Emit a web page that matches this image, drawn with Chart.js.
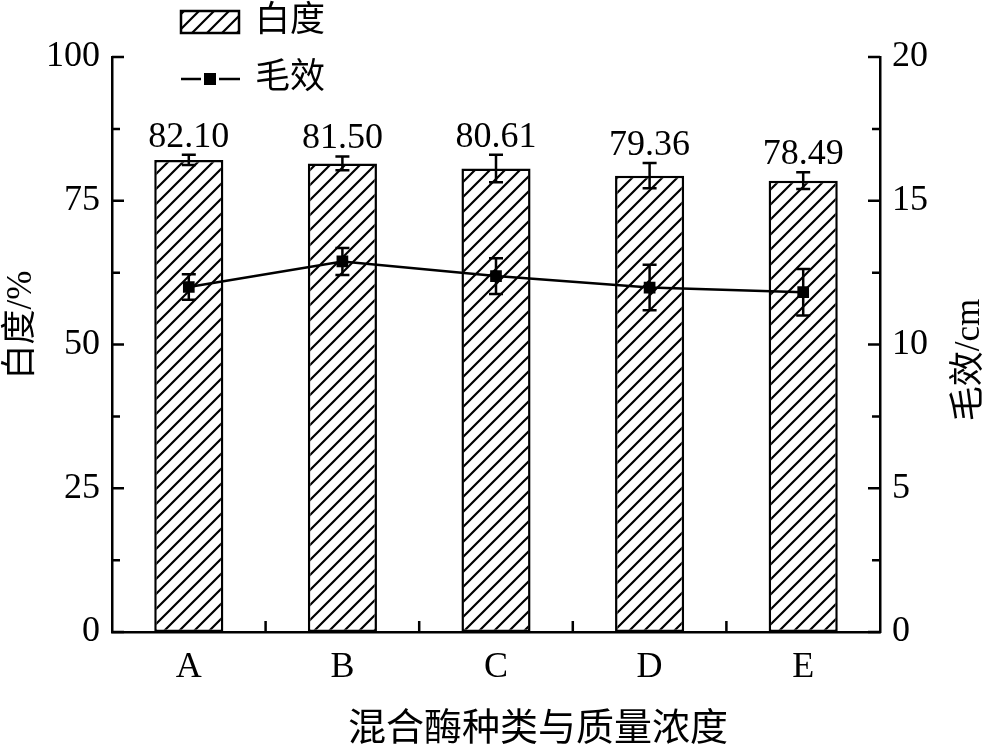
<!DOCTYPE html>
<html>
<head>
<meta charset="utf-8">
<script src="https://cdn.jsdelivr.net/npm/chart.js@4/dist/chart.umd.min.js"></script>
<style>
  body { margin: 0; background: #fff; }
  #wrap { width: 1000px; height: 755px; position: relative; }
</style>
</head>
<body>
<div id="wrap"><canvas id="chart"></canvas></div>
<script>
// data
const categories = ["A", "B", "C", "D", "E"];
const whiteness = [82.10, 81.50, 80.61, 79.36, 78.49];
const whitenessErr = [0.9, 1.2, 2.4, 2.2, 1.45];
const capillary = [12.0, 12.89, 12.38, 11.98, 11.82];
const capillaryErr = [0.44, 0.47, 0.62, 0.79, 0.81];

const FONT = "'Liberation Serif', 'Noto Sans CJK SC', serif";

// hatch pattern ///
function makeHatch(ctx) {
  const s = 15;
  const c = document.createElement("canvas");
  c.width = s; c.height = s;
  const p = c.getContext("2d");
  p.fillStyle = "#fff";
  p.fillRect(0, 0, s, s);
  p.strokeStyle = "#000";
  p.lineWidth = 2.2;
  p.beginPath();
  p.moveTo(-2, s + 2); p.lineTo(s + 2, -2);
  p.moveTo(-2, 2); p.lineTo(2, -2);
  p.moveTo(s - 2, s + 2); p.lineTo(s + 2, s - 2);
  p.stroke();
  return ctx.createPattern(c, "repeat");
}

const canvas = document.getElementById("chart");
const hatch = makeHatch(canvas.getContext("2d"));

// inward ticks, error bars, value labels, legend and axis titles
const decor = {
  id: "decor",
  afterDatasetsDraw(chart) {
    const ctx = chart.ctx;
    const area = chart.chartArea;
    const x = chart.scales.x, y = chart.scales.y, y1 = chart.scales.y1;
    ctx.save();
    ctx.strokeStyle = "#000";
    ctx.fillStyle = "#000";
    ctx.lineWidth = 2.5;

    // ticks
    ctx.beginPath();
    for (let v = 0; v <= 100; v += 12.5) {
      const py = y.getPixelForValue(v);
      const len = v % 25 === 0 ? 12 : 8;
      ctx.moveTo(area.left, py); ctx.lineTo(area.left + len, py);
    }
    for (let v = 0; v <= 20; v += 2.5) {
      const py = y1.getPixelForValue(v);
      const len = v % 5 === 0 ? 12 : 8;
      ctx.moveTo(area.right, py); ctx.lineTo(area.right - len, py);
    }
    for (let i = 0; i < categories.length - 1; i++) {
      const px = (x.getPixelForValue(i) + x.getPixelForValue(i + 1)) / 2;
      ctx.moveTo(px, area.bottom); ctx.lineTo(px, area.bottom - 11);
    }
    ctx.stroke();

    // error bars
    function errBar(px, lo, hi) {
      ctx.beginPath();
      ctx.moveTo(px, lo); ctx.lineTo(px, hi);
      ctx.moveTo(px - 7, lo); ctx.lineTo(px + 7, lo);
      ctx.moveTo(px - 7, hi); ctx.lineTo(px + 7, hi);
      ctx.stroke();
    }
    ctx.font = "36px " + FONT;
    ctx.textAlign = "center";
    ctx.textBaseline = "alphabetic";
    categories.forEach((c, i) => {
      const px = x.getPixelForValue(i);
      const top = y.getPixelForValue(whiteness[i] + whitenessErr[i]);
      errBar(px, y.getPixelForValue(whiteness[i] - whitenessErr[i]), top);
      ctx.fillText(whiteness[i].toFixed(2), px, top - 8);
      errBar(px, y1.getPixelForValue(capillary[i] - capillaryErr[i]),
                 y1.getPixelForValue(capillary[i] + capillaryErr[i]));
    });

    // legend
    ctx.fillStyle = hatch;
    ctx.fillRect(181, 11, 58, 22);
    ctx.strokeRect(181, 11, 58, 22);
    ctx.beginPath();
    ctx.moveTo(181, 79); ctx.lineTo(201, 79);
    ctx.moveTo(219, 79); ctx.lineTo(240, 79);
    ctx.stroke();
    ctx.fillStyle = "#000";
    ctx.fillRect(204, 73, 12, 12);
    ctx.font = "35px " + FONT;
    ctx.textAlign = "left";
    ctx.textBaseline = "middle";
    ctx.fillText("白度", 255, 22);
    ctx.fillText("毛效", 255, 79);

    // axis titles
    ctx.textAlign = "center";
    ctx.font = "38px " + FONT;
    ctx.fillText("混合酶种类与质量浓度", 538, 730);
    ctx.font = "35px " + FONT;
    ctx.save();
    ctx.translate(22, 325);
    ctx.rotate(-Math.PI / 2);
    ctx.fillText("白度/%", 0, 0);
    ctx.restore();
    ctx.save();
    ctx.translate(970, 360);
    ctx.rotate(-Math.PI / 2);
    ctx.fillText("毛效/cm", 0, 0);
    ctx.restore();
    ctx.restore();
  }
};

const axisBase = {
  grid: { display: false, drawTicks: false },
  border: { display: true, color: "#000", width: 2.5 },
  ticks: { color: "#000", font: { family: FONT, size: 36 }, padding: 12 }
};

new Chart(canvas, {
  plugins: [decor],
  data: {
    labels: categories,
    datasets: [
      {
        type: "line",
        label: "毛效",
        data: capillary,
        yAxisID: "y1",
        borderColor: "#000",
        borderWidth: 2.5,
        backgroundColor: "#000",
        pointStyle: "rect",
        pointRadius: 6.5,
        tension: 0,
        order: 0
      },
      {
        type: "bar",
        label: "白度",
        data: whiteness,
        yAxisID: "y",
        backgroundColor: hatch,
        borderColor: "#000",
        borderWidth: 2.5,
        borderSkipped: false,
        categoryPercentage: 1,
        barPercentage: 0.45,
        order: 1
      }
    ]
  },
  options: {
    responsive: true,
    maintainAspectRatio: false,
    animation: false,
    layout: { padding: { top: 57, left: 0, right: 0, bottom: 0 } },
    plugins: { legend: { display: false }, tooltip: { enabled: false } },
    scales: {
      x: {
        ...axisBase,
        ticks: { ...axisBase.ticks, padding: 14 },
        afterFit: (s) => { s.height = 123; }
      },
      y: {
        ...axisBase,
        position: "left",
        min: 0, max: 100,
        ticks: { ...axisBase.ticks, stepSize: 25 },
        afterFit: (s) => { s.width = 112; }
      },
      y1: {
        ...axisBase,
        position: "right",
        min: 0, max: 20,
        ticks: { ...axisBase.ticks, stepSize: 5 },
        afterFit: (s) => { s.width = 120; }
      }
    }
  }
});
</script>
</body>
</html>
